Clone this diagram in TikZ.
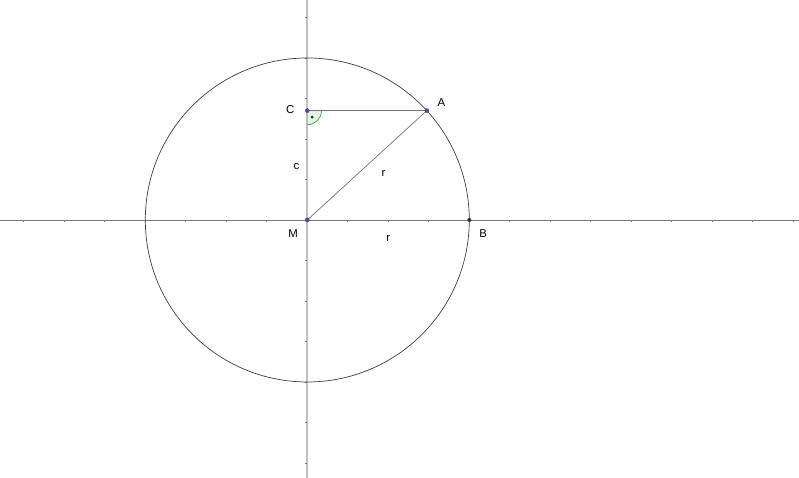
\documentclass[tikz,border=0pt]{standalone}
\usepackage{fontspec}
\setmainfont{Liberation Sans}
\usetikzlibrary{calc}
\definecolor{ptblue}{RGB}{80,80,160}
\definecolor{axisgray}{RGB}{120,120,120}
\definecolor{anglegreen}{RGB}{0,140,0}
\tikzset{
  axisx/.style={draw=axisgray, line width=0.5pt},
  axisy/.style={draw=black!25, line width=1.4pt},
  tick/.style={draw=axisgray, line width=0.5pt},
  seg/.style={draw=black!55, line width=0.5pt},
  pt/.style={fill=ptblue, draw=ptblue!60!black, line width=0.2pt},
  lbl/.style={font=\fontsize{8}{9}\selectfont}
}
\begin{document}
\begin{tikzpicture}
\useasboundingbox (-7.588,-6.370) rectangle (12.141,5.432);
    \coordinate (M) at (0,0);
    \coordinate (B) at (4,0);
    \coordinate (C) at (0,2.7);
    \coordinate (A) at (2.951,2.7);
    % axes
    \draw[axisx] (-7.588,0) -- (12.141,0);
    \draw[axisy] (0,-6.370) -- (0,5.432);
    \foreach \x in {-7,...,-1,1,2,...,12}
        \draw[tick] (\x,0) -- (\x,-0.05);
    \foreach \y in {-6,...,-1,1,2,...,5}
        \draw[tick] (0,\y) -- (-0.05,\y);
    % circle and triangle
    \draw[black!75, line width=0.5pt] (M) circle (4);
    \draw[seg] (C) -- (A);
    \draw[seg] (M) -- (A);
    % right angle at C
    \fill[anglegreen, fill opacity=.1] (C) -- ++(0,-0.35) arc (-90:0:0.35) -- cycle;
    \draw[anglegreen!80, line width=0.5pt] ($(C)+(0,-0.35)$) arc (-90:0:0.35);
    \fill[ptblue!60!black] ($(C)+(0.12,-0.16)$) circle (0.04);
    % points
    \fill[pt] (M) circle (0.05);
    \fill[pt] (C) circle (0.05);
    \fill[pt] (A) circle (0.05);
    \fill[black!80] (B) circle (0.05);
    % labels
    \node[lbl] (lC) at (-0.42,2.72) {C};
    \node[lbl] (lA) at (3.31,2.89) {A};
    \node[lbl] (lc) at (-0.27,1.31) {c};
    \node[lbl] (lr1) at (1.88,1.15) {r};
    \node[lbl] (lM) at (-0.35,-0.33) {M};
    \node[lbl] (lr2) at (2.0,-0.45) {r};
    \node[lbl] (lB) at (4.34,-0.33) {B};
\end{tikzpicture}
\end{document}
